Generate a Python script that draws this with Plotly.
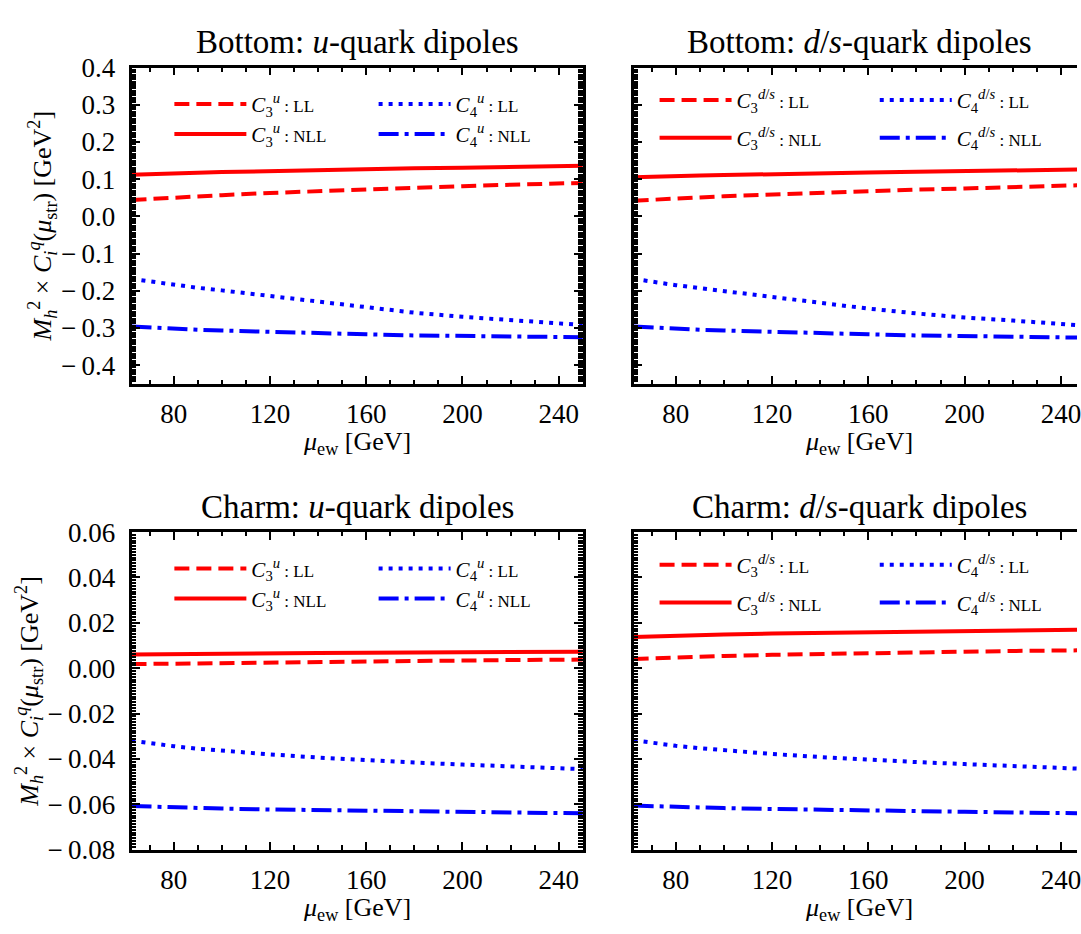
import plotly.graph_objects as go

# Electroweak matching scale grid [GeV]
MU_EW = [62.5, 70, 80, 90, 100, 120, 140, 160, 180, 200, 220, 250]

# Bottom loops, u-quark dipoles  [GeV^2]
B_U_C3_LL = [0.044, 0.047, 0.051, 0.054, 0.057, 0.063, 0.068, 0.072, 0.077, 0.081, 0.085, 0.090]
B_U_C3_NLL = [0.112, 0.114, 0.115, 0.117, 0.119, 0.122, 0.124, 0.127, 0.129, 0.131, 0.133, 0.136]
B_U_C4_LL = [-0.168, -0.175, -0.184, -0.192, -0.199, -0.214, -0.230, -0.246, -0.259, -0.270, -0.278, -0.292]
B_U_C4_NLL = [-0.296, -0.299, -0.302, -0.305, -0.307, -0.311, -0.315, -0.317, -0.320, -0.322, -0.324, -0.325]

# Bottom loops, d/s-quark dipoles
B_DS_C3_LL = [0.042, 0.045, 0.048, 0.051, 0.054, 0.059, 0.063, 0.068, 0.072, 0.075, 0.079, 0.084]
B_DS_C3_NLL = [0.105, 0.107, 0.108, 0.110, 0.111, 0.114, 0.116, 0.118, 0.120, 0.122, 0.123, 0.126]
B_DS_C4_LL = [-0.168, -0.176, -0.185, -0.193, -0.201, -0.217, -0.233, -0.248, -0.261, -0.272, -0.280, -0.294]
B_DS_C4_NLL = [-0.296, -0.299, -0.302, -0.305, -0.307, -0.311, -0.315, -0.317, -0.320, -0.322, -0.324, -0.326]

# Charm loops, u-quark dipoles
C_U_C3_LL = [0.0018, 0.0019, 0.0021, 0.0022, 0.0024, 0.0026, 0.0028, 0.0030, 0.0032, 0.0034, 0.0036, 0.0038]
C_U_C3_NLL = [0.0060, 0.0061, 0.0062, 0.0063, 0.0064, 0.0065, 0.0067, 0.0068, 0.0069, 0.0070, 0.0071, 0.0073]
C_U_C4_LL = [-0.0320, -0.0331, -0.0344, -0.0355, -0.0364, -0.0380, -0.0394, -0.0406, -0.0416, -0.0425, -0.0433, -0.0445]
C_U_C4_NLL = [-0.0608, -0.0611, -0.0614, -0.0617, -0.0619, -0.0623, -0.0626, -0.0629, -0.0632, -0.0634, -0.0637, -0.0640]

# Charm loops, d/s-quark dipoles
C_DS_C3_LL = [0.0041, 0.0044, 0.0048, 0.0051, 0.0054, 0.0059, 0.0063, 0.0067, 0.0070, 0.0073, 0.0076, 0.0079]
C_DS_C3_NLL = [0.0138, 0.0141, 0.0144, 0.0147, 0.0149, 0.0153, 0.0156, 0.0159, 0.0162, 0.0165, 0.0167, 0.0170]
C_DS_C4_LL = [-0.0318, -0.0329, -0.0342, -0.0353, -0.0362, -0.0378, -0.0392, -0.0404, -0.0414, -0.0423, -0.0432, -0.0444]
C_DS_C4_NLL = [-0.0606, -0.0609, -0.0612, -0.0615, -0.0617, -0.0621, -0.0625, -0.0628, -0.0631, -0.0633, -0.0636, -0.0640]

# Axis ticks and their labels (math minus followed by a thin space)
X_TICKS = [80, 120, 160, 200, 240]
Y_TICKS_BOTTOM = [-0.4, -0.3, -0.2, -0.1, 0.0, 0.1, 0.2, 0.3, 0.4]
Y_LABELS_BOTTOM = ["\u2212\u20090.4", "\u2212\u20090.3", "\u2212\u20090.2", "\u2212\u20090.1",
                   "0.0", "0.1", "0.2", "0.3", "0.4"]
Y_TICKS_CHARM = [-0.08, -0.06, -0.04, -0.02, 0.00, 0.02, 0.04, 0.06]
Y_LABELS_CHARM = ["\u2212\u20090.08", "\u2212\u20090.06", "\u2212\u20090.04", "\u2212\u20090.02",
                  "0.00", "0.02", "0.04", "0.06"]

PANEL_TITLES = [
    "Bottom: <i>u</i>-quark dipoles",
    "Bottom: <i>d</i>/<i>s</i>-quark dipoles",
    "Charm: <i>u</i>-quark dipoles",
    "Charm: <i>d</i>/<i>s</i>-quark dipoles",
]
FLAVOUR_TAGS = ["<i>u</i>", "<i>d</i>/<i>s</i>", "<i>u</i>", "<i>d</i>/<i>s</i>"]

W, H = 1081, 934
FONT = "Liberation Serif"
RED, BLUE = "#ff0000", "#0000ff"


def px_x(p):
    return p / W


def px_y(p):
    return 1 - p / H


# pixel geometry of the 2x2 grid
COLS = [(132, 585), (636, 1081)]
ROWS = [(54.3, 381), (534.3, 862.3)]
PANEL_W = 453
PX_PER_GEV = (585 - 132) / 187.5

panels = [
    (B_U_C3_LL, B_U_C3_NLL, B_U_C4_LL, B_U_C4_NLL),
    (B_DS_C3_LL, B_DS_C3_NLL, B_DS_C4_LL, B_DS_C4_NLL),
    (C_U_C3_LL, C_U_C3_NLL, C_U_C4_LL, C_U_C4_NLL),
    (C_DS_C3_LL, C_DS_C3_NLL, C_DS_C4_LL, C_DS_C4_NLL),
]

# (index, order, colour, dash, legend column, legend row)
styles = [
    ("3", "LL", RED, "15px,7px", 0, 0),
    ("3", "NLL", RED, "solid", 0, 1),
    ("4", "LL", BLUE, "4px,6px", 1, 0),
    ("4", "NLL", BLUE, "20px,6px,4px,6px", 1, 1),
]

fig = go.Figure()
layout = dict(
    width=W, height=H,
    margin=dict(l=0, r=0, t=0, b=0),
    paper_bgcolor="white", plot_bgcolor="white",
    font=dict(family=FONT, size=26, color="black"),
    showlegend=True,
    annotations=[],
)

legend_no = 0
for k, series in enumerate(panels):
    r, c = divmod(k, 2)
    ax = "" if k == 0 else str(k + 1)
    x0, x1 = COLS[c]
    y0, y1 = ROWS[r]
    tag = FLAVOUR_TAGS[k]

    # legend anchor points (line-sample start, row centre) in pixels
    col_x = [x0 + 38, x0 + 243] if c == 0 else [x0 + 21, x0 + 242]
    row_y = [y0 + 38, y0 + 69] if c == 0 else [y0 + 34, y0 + 73]

    for vals, (idx, order, color, dash, lc, lr) in zip(series, styles):
        legend_no += 1
        key = "legend" if legend_no == 1 else "legend%d" % legend_no
        name = ("<i>C</i><sub>%s</sub><sup>%s</sup>"
                "<span style='font-size:17px'> : %s</span>") % (idx, tag, order)
        fig.add_trace(go.Scatter(
            x=MU_EW, y=vals, mode="lines", name=name,
            line=dict(color=color, width=4, dash=dash),
            xaxis="x" + ax, yaxis="y" + ax, legend=key,
        ))
        layout[key] = dict(
            x=px_x(col_x[lc]), y=px_y(row_y[lr]),
            xanchor="left", yanchor="middle",
            orientation="v", bgcolor="rgba(0,0,0,0)", borderwidth=0,
            itemwidth=72, font=dict(size=21),
        )

    xmax = 62.5 + (x1 - x0) / PX_PER_GEV
    layout["xaxis" + ax] = dict(
        domain=[px_x(x0), px_x(x1)], anchor="y" + ax,
        range=[62.5, xmax], tickvals=X_TICKS,
        ticks="inside", ticklen=8, tickwidth=2, tickcolor="black",
        minor=dict(tickmode="linear", tick0=60, dtick=10, ticks="inside",
                   ticklen=4.5, tickwidth=1.5, tickcolor="black"),
        showline=True, linewidth=2.5, linecolor="black", mirror="allticks",
        showgrid=False, zeroline=False, ticklabelstandoff=4,
        ticklabeloverflow="allow",
        tickfont=dict(size=27),
    )
    if r == 0:
        yr, yt, yl, mdt = [-0.45, 0.4], Y_TICKS_BOTTOM, Y_LABELS_BOTTOM, 0.1 / 16
    else:
        yr, yt, yl, mdt = [-0.08, 0.06], Y_TICKS_CHARM, Y_LABELS_CHARM, 0.02 / 16
    layout["yaxis" + ax] = dict(
        domain=[px_y(y1), px_y(y0)], anchor="x" + ax,
        range=yr, tickvals=yt, ticktext=yl,
        ticks="inside", ticklen=9, tickwidth=2, tickcolor="black",
        minor=dict(tickmode="linear", tick0=0, dtick=mdt, ticks="inside",
                   ticklen=5, tickwidth=1.5, tickcolor="black"),
        showline=True, linewidth=2.5, linecolor="black",
        mirror="allticks" if c == 0 else False,
        showticklabels=(c == 0), showgrid=False, zeroline=False,
        ticklabelstandoff=8, tickfont=dict(size=27),
    )

    # panel title
    layout["annotations"].append(dict(
        text=PANEL_TITLES[k], xref="paper", yref="paper",
        x=px_x(x0 + PANEL_W / 2), y=px_y(y0 - 26),
        xanchor="center", yanchor="middle", showarrow=False,
        font=dict(size=33),
    ))
    # x-axis title
    layout["annotations"].append(dict(
        text="<i>μ</i><sub>ew</sub> [GeV]", xref="paper", yref="paper",
        x=px_x(x0 + PANEL_W / 2), y=px_y(y1 + 61),
        xanchor="center", yanchor="middle", showarrow=False,
        font=dict(size=26),
    ))
    # y-axis title (left column only)
    if c == 0:
        layout["annotations"].append(dict(
            text=("<i>M</i><sub><i>h</i></sub><sup>2</sup> × "
                  "<i>C</i><sub><i>i</i></sub><sup><i>q</i></sup>(<i>μ</i><sub>str</sub>) "
                  "[GeV<sup>2</sup>]"),
            xref="paper", yref="paper",
            x=px_x(42 if r == 0 else 29), y=px_y((y0 + y1) / 2),
            xanchor="center", yanchor="middle", textangle=-90, showarrow=False,
            font=dict(size=26),
        ))

fig.update_layout(**layout)
fig.write_html("out.html")
